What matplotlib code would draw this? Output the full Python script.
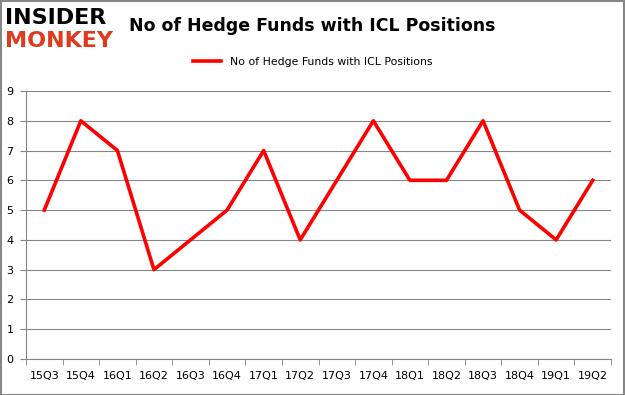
import numpy as np
import matplotlib.pyplot as plt

quarters = ["15Q3", "15Q4", "16Q1", "16Q2", "16Q3", "16Q4", "17Q1", "17Q2",
            "17Q3", "17Q4", "18Q1", "18Q2", "18Q3", "18Q4", "19Q1", "19Q2"]
funds = [5, 8, 7, 3, 4, 5, 7, 4, 6, 8, 6, 6, 8, 5, 4, 6]

fig = plt.figure(figsize=(6.25, 3.95), dpi=100)
ax = fig.add_axes([26 / 625, 1 - 359 / 395, 585 / 625, 268 / 395])

x = np.arange(len(quarters))
ax.plot(x, funds, color="#ff0000", linewidth=2.6, label="No of Hedge Funds with ICL Positions")

ax.set_xlim(-0.5, len(quarters) - 0.5)
ax.set_ylim(0, 9)
ax.set_yticks(range(10))
ax.set_xticks(x)
ax.set_xticklabels(quarters)
ax.set_xticks(np.arange(-0.5, len(quarters)), minor=True)
ax.tick_params(axis="x", which="major", length=0, pad=9, labelsize=8)
ax.tick_params(axis="x", which="minor", length=4, color="#868686")
ax.tick_params(axis="y", length=4, color="#868686", labelsize=8, pad=5)
ax.grid(axis="y", color="#868686", linewidth=0.8)
ax.set_axisbelow(True)
for s in ["top", "right"]:
    ax.spines[s].set_visible(False)
ax.spines["left"].set_color("#868686")
ax.spines["bottom"].set_color("#868686")

fig.text(0.5, 0.935, "No of Hedge Funds with ICL Positions", ha="center", va="center",
         fontsize=12.5, fontweight="bold")
leg = fig.legend(loc="center", bbox_to_anchor=(0.5, 0.843), frameon=False, fontsize=7.8,
                 handlelength=2.6)

fig.text(0.008, 0.955, "INSIDER", fontsize=16, fontweight="black", color="black",
         va="center", ha="left")
fig.text(0.008, 0.895, "MONKEY", fontsize=16, fontweight="black", color="#e03a1e",
         va="center", ha="left")

border = plt.Rectangle((0.001, 0.001), 0.997, 0.997, transform=fig.transFigure,
                       fill=False, edgecolor="#868686", linewidth=1.5)
fig.patches.append(border)

fig.savefig("out.png", dpi=100)
